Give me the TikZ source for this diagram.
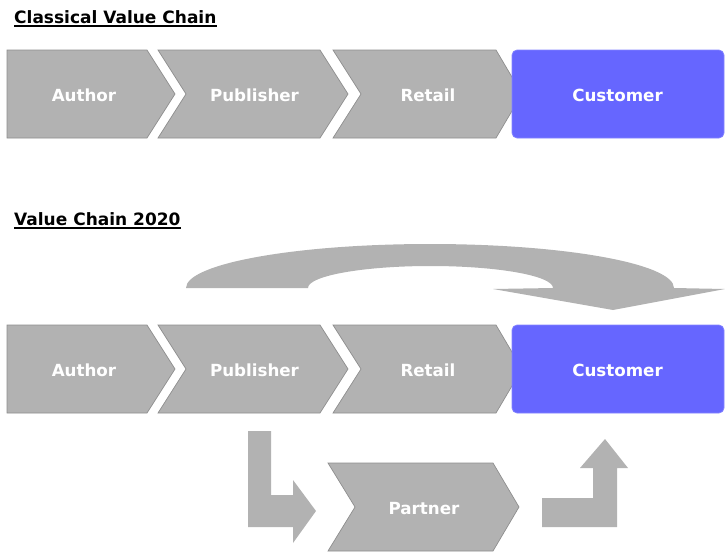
\documentclass[tikz,border=0pt]{standalone}
\usepackage{fontspec}
\setmainfont{DejaVu Sans}
\usepackage{tikz}
\definecolor{chaingray}{HTML}{B2B2B2}
\definecolor{chainedge}{HTML}{8E8E8E}
\definecolor{chainblue}{HTML}{6666FF}
\definecolor{chainblueedge}{HTML}{8585FF}
\tikzset{
	chain/.style={fill=chaingray,draw=chainedge,line width=0.7pt,line join=miter},
	cust/.style={fill=chainblue,draw=chainblueedge,line width=0.7pt,rounded corners=5pt},
	bendarrow/.style={fill=chaingray,draw=none},
	lbl/.style={text=white,font=\bfseries\fontsize{16.7}{18}\selectfont,anchor=base,inner sep=0pt},
	ttl/.style={font=\bfseries\fontsize{17}{19}\selectfont,anchor=base west,inner sep=0pt}
}

\begin{document}
\begin{tikzpicture}[x=1pt,y=-1pt]
			\useasboundingbox (0,0) rectangle (725,552);
	
			% classical chain
			\node[ttl] (ttlA) at (14,23) {Classical Value Chain};
			\draw[line width=1.4pt] ([yshift=-2.8pt]ttlA.base west) -- ([yshift=-2.8pt]ttlA.base east);
			\draw[chain] (7,50) -- (147,50) -- (175,94) -- (147,138) -- (7,138) -- cycle;
			\draw[chain] (158,50) -- (320,50) -- (348,94) -- (320,138) -- (158,138) -- (186,94) -- cycle;
			\draw[chain] (333,50) -- (496,50) -- (522,94) -- (496,138) -- (333,138) -- (361,94) -- cycle;
			\draw[cust] (512,50) rectangle (724,138);
				\node[lbl] (authA) at (84,101) {Author};
				\node[lbl] (pubA) at (254.5,101) {Publisher};
				\node[lbl] (retA) at (428,101) {Retail};
				\node[lbl] (custA) at (617.5,101) {Customer};
	
			% chain 2020
			\node[ttl] (ttlB) at (14,225) {Value Chain 2020};
			\draw[line width=1.4pt] ([yshift=-2.8pt]ttlB.base west) -- ([yshift=-2.8pt]ttlB.base east);
			\fill[bendarrow] (186,288) arc[start angle=180,end angle=0,x radius=244pt,y radius=44pt]
				-- (725,289) -- (613,310) -- (493,289) -- (553,288)
				arc[start angle=0,end angle=180,x radius=122.5pt,y radius=22pt] -- cycle;
			\draw[chain] (7,325) -- (147,325) -- (175,369) -- (147,413) -- (7,413) -- cycle;
			\draw[chain] (158,325) -- (320,325) -- (348,369) -- (320,413) -- (158,413) -- (186,369) -- cycle;
			\draw[chain] (333,325) -- (496,325) -- (522,369) -- (496,413) -- (333,413) -- (361,369) -- cycle;
			\draw[cust] (512,325) rectangle (724,413);
				\node[lbl] (authB) at (84,376) {Author};
				\node[lbl] (pubB) at (254.5,376) {Publisher};
				\node[lbl] (retB) at (428,376) {Retail};
				\node[lbl] (custB) at (617.5,376) {Customer};
	
			% partner detour
			\fill[bendarrow] (248,431) -- (271,431) -- (271,495) -- (293,495) -- (293,480) -- (316,511)
				-- (293,543) -- (293,527) -- (248,527) -- cycle;
			\draw[chain] (328,463) -- (493,463) -- (519,507) -- (493,551) -- (328,551) -- (355,507) -- cycle;
				\node[lbl] (partner) at (424,514) {Partner};
			\fill[bendarrow] (542,498) -- (593,498) -- (593,468) -- (580,468) -- (605,439) -- (628,468)
				-- (617,468) -- (617,527) -- (542,527) -- cycle;
		\end{tikzpicture}
\end{document}
